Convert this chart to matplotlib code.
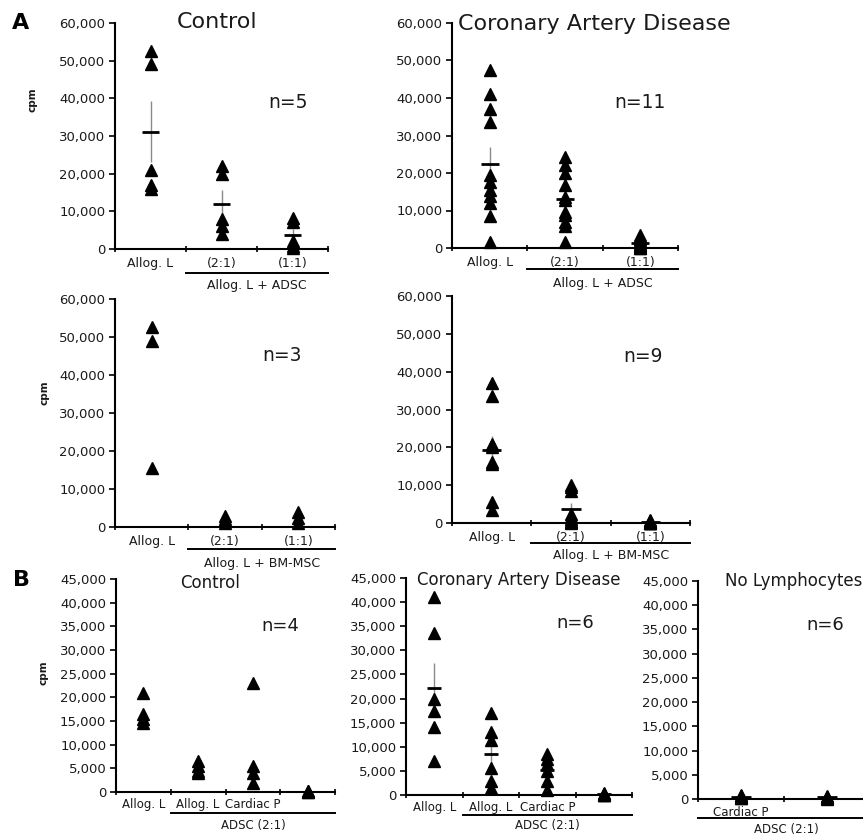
import numpy as np
import matplotlib.pyplot as plt
from matplotlib.ticker import FuncFormatter

# Panel A, top row: allogeneic lymphocytes +/- ADSC
ctrl_adsc = [
    [52500, 49000, 21000, 17000, 16000],
    [22000, 20000, 8000, 6000, 4000],
    [8200, 7200, 2000, 800, 300],
]
cad_adsc = [
    [47500, 41000, 37000, 33500, 19500, 17500, 15500, 14000, 12000, 8500, 1500],
    [24300, 22100, 19900, 16800, 13500, 12800, 9500, 8800, 7000, 6000, 1700],
    [3500, 3000, 2500, 2000, 1500, 1000, 800, 500, 300, 100, 0],
]
# Panel A, second row: +/- BM-MSC
ctrl_bm = [
    [52500, 49000, 15500],
    [3000, 2000, 1000],
    [4000, 2500, 1000],
]
cad_bm = [
    [37000, 33500, 21000, 20500, 20000, 16000, 15500, 5500, 3500],
    [10000, 9500, 8500, 2500, 1500, 1000, 500, 200, 0],
    [800, 600, 400, 300, 200, 100, 0, 0, 0],
]
# Panel B
ctrl_b = [
    [21000, 16500, 15500, 14500],
    [6500, 5500, 4500, 4000],
    [23000, 5500, 4000, 2000],
    [300, 200, 100, 0],
]
cad_b = [
    [41000, 33500, 20000, 17500, 14000, 7000],
    [17000, 13000, 11500, 5500, 3000, 1500],
    [8500, 7500, 6500, 5000, 3000, 1000],
    [400, 300, 200, 100, 0, 0],
]
nolym_b = [
    [800, 600, 500, 400, 300, 200],
    [700, 500, 400, 300, 200, 100],
]

labels_a = ["Allog. L", "(2:1)", "(1:1)"]
labels_b = ["Allog. L", "Allog. L", "Cardiac P", ""]
labels_nolym = ["Cardiac P", ""]

W, H = 863, 836
fig = plt.figure(figsize=(W / 100, H / 100), dpi=100)
plt.rcParams['font.family'] = 'DejaVu Sans'
TXT = '#1a1a1a'


def px_axes(x0, x1, y_top, y_bot):
    ax = fig.add_axes([x0 / W, 1 - y_bot / H, (x1 - x0) / W, (y_bot - y_top) / H])
    ax._hpx = y_bot - y_top
    return ax


def panel(ax, groups, labels, ymax, ystep, show_mean, ms=8.5, lpad=6, xmax=None, lsize=9):
    n = len(groups)
    centers = np.arange(n) + 0.5
    for c, vals in zip(centers, groups):
        vals = np.array(vals, dtype=float)
        if show_mean:
            m = vals.mean()
            sem = vals.std(ddof=1) / np.sqrt(len(vals))
            ax.vlines(c, m - sem, m + sem, color='#8a8a8a', lw=1, zorder=2)
        ax.plot(np.full(len(vals), c), vals, '^', color='black', ms=ms,
                clip_on=False, zorder=3)
        if show_mean:
            ax.hlines(m, c - 0.12, c + 0.12, color='black', lw=2, zorder=4)
    ax.set_xlim(0, xmax if xmax else n)
    ax.set_ylim(0, ymax)
    ax.set_yticks(np.arange(0, ymax + 1, ystep))
    ax.yaxis.set_major_formatter(FuncFormatter(lambda v, p: f"{v:,.0f}"))
    ax.set_xticks(centers)
    ax.set_xticklabels(labels, fontsize=lsize, color=TXT)
    ax.set_xticks(np.arange(0, n + 1), minor=True)
    ax.tick_params(axis='x', which='major', length=0, pad=lpad)
    ax.tick_params(axis='x', which='minor', length=4, width=1.2, direction='inout')
    ax.tick_params(axis='y', length=4, width=1.2, labelsize=9.5, labelcolor=TXT, pad=3)
    for s in ['top', 'right']:
        ax.spines[s].set_visible(False)
    for s in ['left', 'bottom']:
        ax.spines[s].set_linewidth(1.5)


def bracket(ax, x0, x1, line_px, text, text_px, tx=None, size=9):
    trans = ax.get_xaxis_transform()
    ax.plot([x0, x1], [-line_px / ax._hpx] * 2, color='black', lw=1.4,
            transform=trans, clip_on=False)
    ax.text(tx if tx is not None else (x0 + x1) / 2, -text_px / ax._hpx, text,
            transform=trans, ha='center', va='center', fontsize=size, color=TXT)


def note(x_px, y_px, s, size, ha='center'):
    fig.text(x_px / W, 1 - y_px / H, s, ha=ha, va='center', fontsize=size, color=TXT)


# ---- A ----
ax1 = px_axes(115, 328, 23, 249)
panel(ax1, ctrl_adsc, labels_a, 60000, 10000, True)
bracket(ax1, 1, 3, 24, "Allog. L + ADSC", 36)
note(217, 22, "Control", 16)
note(288, 102, "n=5", 13.5)

ax2 = px_axes(452, 678, 23, 248)
panel(ax2, cad_adsc, labels_a, 60000, 10000, True)
bracket(ax2, 1, 3, 21, "Allog. L + ADSC", 35)
note(458, 24, "Coronary Artery Disease", 16, ha='left')
note(640, 103, "n=11", 13.5)

ax3 = px_axes(115, 335, 299, 527)
panel(ax3, ctrl_bm, labels_a, 60000, 10000, False)
bracket(ax3, 1, 3, 22, "Allog. L + BM-MSC", 36)
note(282, 355, "n=3", 13.5)

ax4 = px_axes(452, 690, 296, 523)
panel(ax4, cad_bm, labels_a, 60000, 10000, True)
bracket(ax4, 1, 3, 20, "Allog. L + BM-MSC", 33)
note(643, 356, "n=9", 13.5)

# ---- B ----
ax5 = px_axes(116, 335, 579, 792)
panel(ax5, ctrl_b, labels_b, 45000, 5000, False, ms=8, lpad=4, lsize=8.5)
bracket(ax5, 1, 4, 21, "ADSC (2:1)", 33, size=8.5)
note(210, 583, "Control", 12)
note(280, 626, "n=4", 13)

ax6 = px_axes(406, 632, 578, 795)
panel(ax6, cad_b, labels_b, 45000, 5000, True, ms=8, lpad=4, lsize=8.5)
bracket(ax6, 1, 4, 20, "ADSC (2:1)", 31, size=8.5)
note(417, 580, "Coronary Artery Disease", 12, ha='left')
note(575, 623, "n=6", 13)

ax7 = px_axes(698, 870, 581, 799)
panel(ax7, nolym_b, labels_nolym, 45000, 5000, True, ms=8, lpad=5, lsize=8.5)
bracket(ax7, 0, 2, 19, "ADSC (2:1)", 30, tx=1.03, size=8.5)
note(725, 581, "No Lymphocytes", 12, ha='left')
note(825, 625, "n=6", 13)

for ax in (ax1, ax3, ax5):
    ax.set_ylabel("cpm", fontsize=7.5, fontweight='bold', color=TXT)
ax1.yaxis.set_label_coords(-(115 - 38) / 213, (249 - 100) / 226)
ax3.yaxis.set_label_coords(-(115 - 50) / 220, (527 - 393) / 228)
ax5.yaxis.set_label_coords(-(116 - 48) / 219, (792 - 673) / 213)

fig.text(21 / W, 1 - 23 / H, "A", fontsize=16, fontweight='bold', ha='center', va='center')
fig.text(21 / W, 1 - 580 / H, "B", fontsize=16, fontweight='bold', ha='center', va='center')

fig.savefig("out.png", dpi=100)
